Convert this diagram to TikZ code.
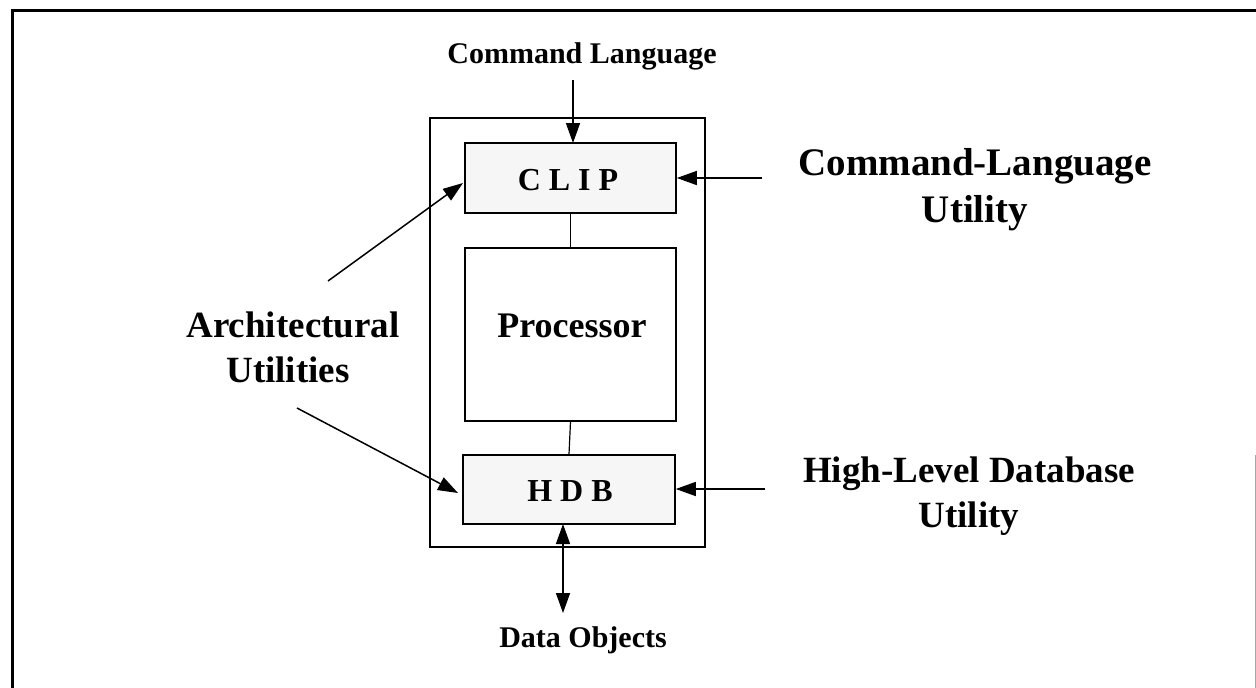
\documentclass[tikz,border=0pt]{standalone}
\usepackage{fontspec}
\setmainfont{Liberation Serif}
\usetikzlibrary{arrows.meta}
\tikzset{
  box/.style={draw=black, line width=1.6pt, inner sep=0pt},
  utilbox/.style={box, fill=gray!7},
  arr/.style={line width=1.5pt, -{Triangle[length=20pt,width=14pt]}},
  darr/.style={line width=1.5pt, {Triangle[length=20pt,width=14pt]}-{Triangle[length=20pt,width=14pt]}},
  conn/.style={line width=1.2pt},
  lbl/.style={font=\bfseries\fontsize{30}{36}\selectfont, inner sep=0pt, anchor=base},
  biglbl/.style={font=\bfseries\fontsize{37}{45}\selectfont, inner sep=0pt, anchor=base, align=center},
  boxlbl/.style={font=\bfseries\fontsize{32}{38}\selectfont, inner sep=0pt, anchor=base},
}
\begin{document}
\begin{tikzpicture}[x=1pt,y=-1pt]
\useasboundingbox (0,0) rectangle (1256,688);
% page frame
\draw[line width=3pt] (12,688) -- (12,10) -- (1256,10);
\draw[gray!70, line width=1pt] (1255,455) -- (1255,688);
% boxes
\node[box, minimum width=275pt, minimum height=429pt] (outer) at (567.5,332.5) {};
\node[utilbox, minimum width=211pt, minimum height=70pt] (clip) at (570.5,178) {};
\node[box, minimum width=211pt, minimum height=173pt] (proc) at (570.5,334.5) {};
\node[utilbox, minimum width=212pt, minimum height=69pt] (hdb) at (569,489.5) {};
\node[boxlbl] (cliptext) at (568,190) {C L I P};
\node[biglbl, font=\bfseries\fontsize{36}{44}\selectfont] (proctext) at (572,337) {Processor};
\node[boxlbl] (hdbtext) at (570,501) {H D B};
% connectors between boxes
\draw[conn] (clip.south) -- (proc.north);
\draw[conn] (proc.south) -- (hdb.north);
% labels
\node[lbl] (cmdlang) at (582,63) {Command Language};
\node[lbl] (dataobj) at (583,647) {Data Objects};
\node[biglbl, font=\bfseries\fontsize{39}{47}\selectfont] (clu) at (975,222) {Command-Language\\Utility};
\node[biglbl] (hldu) at (969,527) {High-Level Database\\Utility};
\node[biglbl] (arch) at (293,337) {Architectural};
\node[biglbl] (util) at (288,382) {Utilities};
% arrow free ends
\coordinate (cls) at (573,80);
\coordinate (clt) at (573,143);
\coordinate (clus) at (762,178);
\coordinate (hlds) at (765,489);
\coordinate (dos) at (563,524);
\coordinate (doe) at (563,613);
\coordinate (a1s) at (328,281);
\coordinate (a1e) at (463,183);
\coordinate (a2s) at (297,408);
\coordinate (a2e) at (458,493);
% arrows
\draw[arr] (cls) -- (clt);
\draw[arr] (clus) -- (clus -| clip.east);
\draw[arr] (hlds) -- (hlds -| hdb.east);
\draw[darr] (dos) -- (doe);
\draw[arr] (a1s) -- (a1e);
\draw[arr] (a2s) -- (a2e);
\end{tikzpicture}
\end{document}
